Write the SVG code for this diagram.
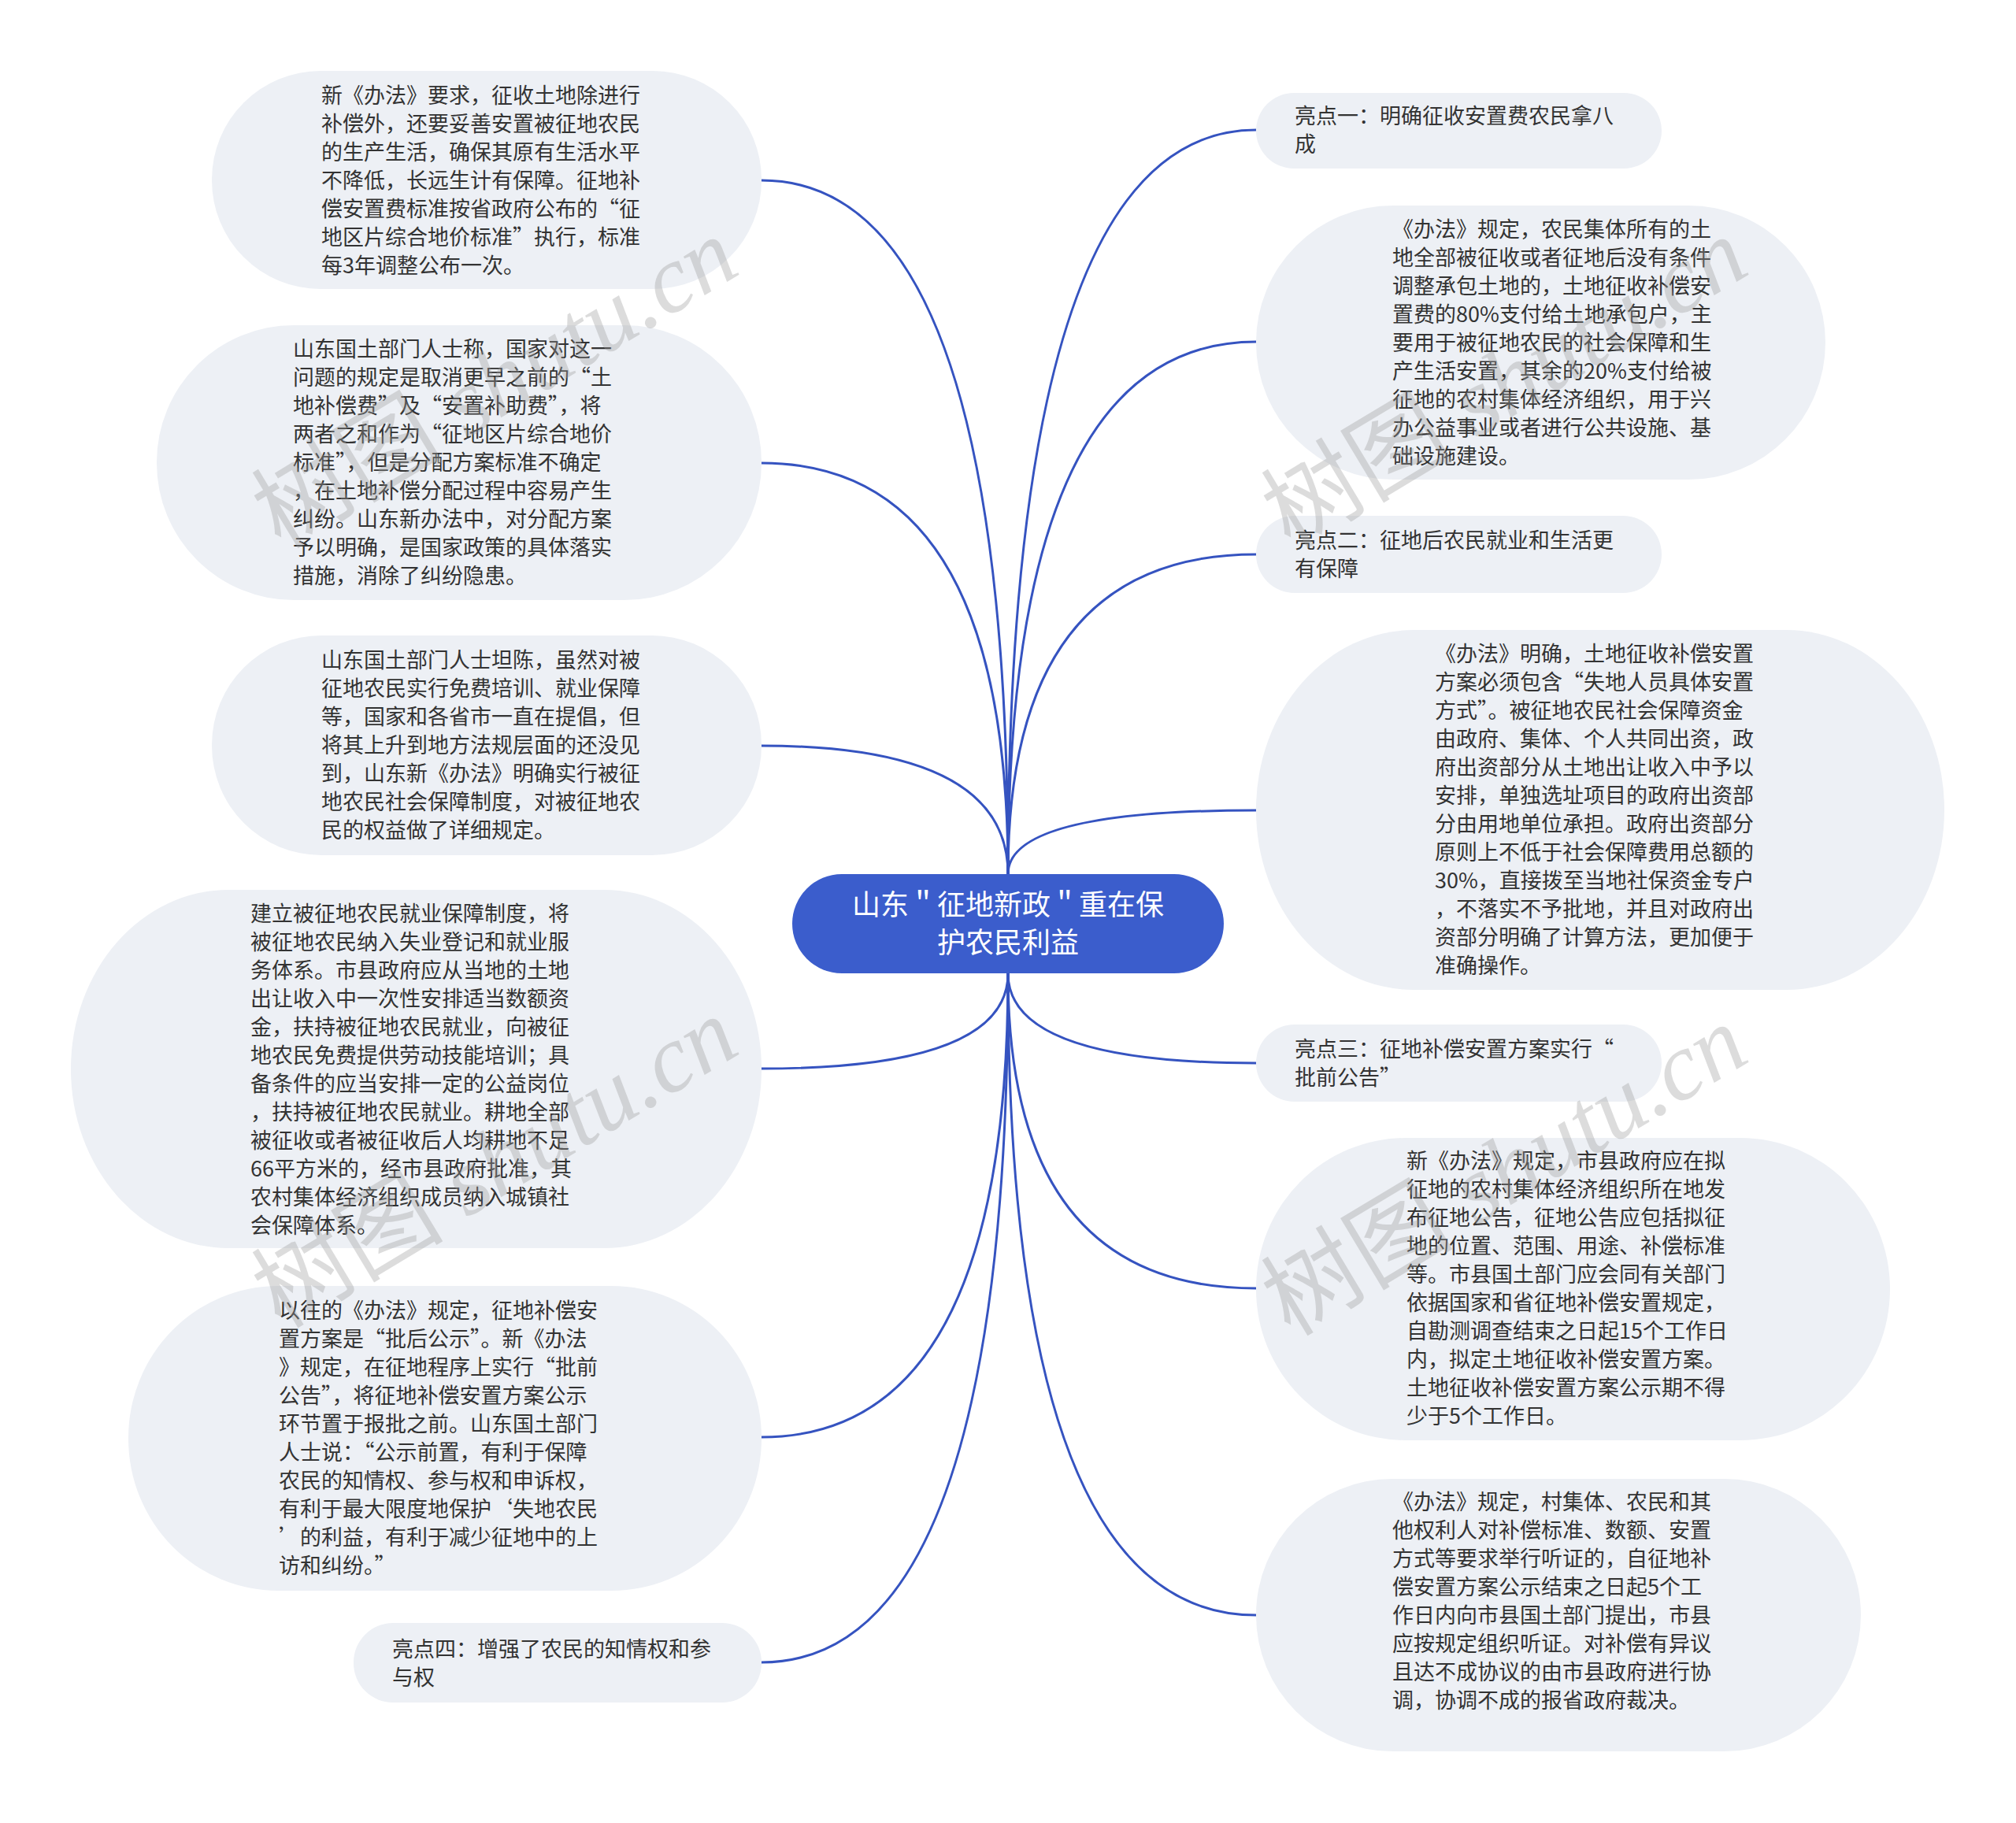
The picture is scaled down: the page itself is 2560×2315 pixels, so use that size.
<svg xmlns="http://www.w3.org/2000/svg" width="2560" height="2315" viewBox="0 0 2560 2315">
<style>
.nb{fill:#edf0f5;stroke:none}
.t{font-family:"Noto Sans CJK SC","Noto Sans",sans-serif;font-size:27px;fill:#333333}
.ct{font-family:"Noto Sans CJK SC","Noto Sans",sans-serif;font-size:36px;fill:#ffffff;text-anchor:middle}
.ln{fill:none;stroke:#3553c0;stroke-width:3}
.wm{font-family:"Liberation Serif","Noto Sans CJK SC",serif;font-size:122px;fill:#9a9a9a;fill-opacity:0.35;text-anchor:middle}
</style>
<rect width="2560" height="2315" fill="#ffffff"/>
<g id="connectors">
<path class="ln" d="M1280 1110 Q1280 229 967 229"/>
<path class="ln" d="M1280 1110 Q1280 588 967 588"/>
<path class="ln" d="M1280 1110 Q1280 947 967 947"/>
<path class="ln" d="M1280 1236 Q1280 1357 967 1357"/>
<path class="ln" d="M1280 1236 Q1280 1825 967 1825"/>
<path class="ln" d="M1280 1236 Q1280 2111 967 2111"/>
<path class="ln" d="M1280 1110 Q1280 165 1595 165"/>
<path class="ln" d="M1280 1110 Q1280 434 1595 434"/>
<path class="ln" d="M1280 1110 Q1280 704 1595 704"/>
<path class="ln" d="M1280 1110 Q1280 1029 1595 1029"/>
<path class="ln" d="M1280 1236 Q1280 1350 1595 1350"/>
<path class="ln" d="M1280 1236 Q1280 1636 1595 1636"/>
<path class="ln" d="M1280 1236 Q1280 2051 1595 2051"/>
</g>
<g id="center">
<rect x="1006" y="1110" width="548" height="126" rx="63" ry="63" fill="#3b5dcc"/>
<text class="ct" x="1280" y="1162">山东＂征地新政＂重在保</text>
<text class="ct" x="1280" y="1210">护农民利益</text>
</g>
<g id="L1">
<rect class="nb" x="269" y="90" width="698" height="277" rx="138" ry="138"/>
<text class="t" x="408" y="131"><tspan x="408">新《办法》要求，征收土地除进行</tspan><tspan x="408" dy="36">补偿外，还要妥善安置被征地农民</tspan><tspan x="408" dy="36">的生产生活，确保其原有生活水平</tspan><tspan x="408" dy="36">不降低，长远生计有保障。征地补</tspan><tspan x="408" dy="36">偿安置费标准按省政府公布的“征</tspan><tspan x="408" dy="36">地区片综合地价标准”执行，标准</tspan><tspan x="408" dy="36">每3年调整公布一次。</tspan></text>
</g>
<g id="L2">
<rect class="nb" x="199" y="413" width="768" height="349" rx="174" ry="174"/>
<text class="t" x="372" y="453"><tspan x="372">山东国土部门人士称，国家对这一</tspan><tspan x="372" dy="36">问题的规定是取消更早之前的“土</tspan><tspan x="372" dy="36">地补偿费”及“安置补助费”，将</tspan><tspan x="372" dy="36">两者之和作为“征地区片综合地价</tspan><tspan x="372" dy="36">标准”，但是分配方案标准不确定</tspan><tspan x="372" dy="36">，在土地补偿分配过程中容易产生</tspan><tspan x="372" dy="36">纠纷。山东新办法中，对分配方案</tspan><tspan x="372" dy="36">予以明确，是国家政策的具体落实</tspan><tspan x="372" dy="36">措施，消除了纠纷隐患。</tspan></text>
</g>
<g id="L3">
<rect class="nb" x="269" y="807" width="698" height="279" rx="139" ry="139"/>
<text class="t" x="408" y="848"><tspan x="408">山东国土部门人士坦陈，虽然对被</tspan><tspan x="408" dy="36">征地农民实行免费培训、就业保障</tspan><tspan x="408" dy="36">等，国家和各省市一直在提倡，但</tspan><tspan x="408" dy="36">将其上升到地方法规层面的还没见</tspan><tspan x="408" dy="36">到，山东新《办法》明确实行被征</tspan><tspan x="408" dy="36">地农民社会保障制度，对被征地农</tspan><tspan x="408" dy="36">民的权益做了详细规定。</tspan></text>
</g>
<g id="L4">
<rect class="nb" x="90" y="1130" width="877" height="455" rx="200" ry="227"/>
<text class="t" x="318" y="1170"><tspan x="318">建立被征地农民就业保障制度，将</tspan><tspan x="318" dy="36">被征地农民纳入失业登记和就业服</tspan><tspan x="318" dy="36">务体系。市县政府应从当地的土地</tspan><tspan x="318" dy="36">出让收入中一次性安排适当数额资</tspan><tspan x="318" dy="36">金，扶持被征地农民就业，向被征</tspan><tspan x="318" dy="36">地农民免费提供劳动技能培训；具</tspan><tspan x="318" dy="36">备条件的应当安排一定的公益岗位</tspan><tspan x="318" dy="36">，扶持被征地农民就业。耕地全部</tspan><tspan x="318" dy="36">被征收或者被征收后人均耕地不足</tspan><tspan x="318" dy="36">66平方米的，经市县政府批准，其</tspan><tspan x="318" dy="36">农村集体经济组织成员纳入城镇社</tspan><tspan x="318" dy="36">会保障体系。</tspan></text>
</g>
<g id="L5">
<rect class="nb" x="163" y="1633" width="804" height="387" rx="190" ry="193"/>
<text class="t" x="354" y="1674"><tspan x="354">以往的《办法》规定，征地补偿安</tspan><tspan x="354" dy="36">置方案是“批后公示”。新《办法</tspan><tspan x="354" dy="36">》规定，在征地程序上实行“批前</tspan><tspan x="354" dy="36">公告”，将征地补偿安置方案公示</tspan><tspan x="354" dy="36">环节置于报批之前。山东国土部门</tspan><tspan x="354" dy="36">人士说：“公示前置，有利于保障</tspan><tspan x="354" dy="36">农民的知情权、参与权和申诉权，</tspan><tspan x="354" dy="36">有利于最大限度地保护‘失地农民</tspan><tspan x="354" dy="36">’的利益，有利于减少征地中的上</tspan><tspan x="354" dy="36">访和纠纷。”</tspan></text>
</g>
<g id="L6">
<rect class="nb" x="449" y="2061" width="518" height="101" rx="50" ry="50"/>
<text class="t" x="498" y="2104"><tspan x="498">亮点四：增强了农民的知情权和参</tspan><tspan x="498" dy="36">与权</tspan></text>
</g>
<g id="R1">
<rect class="nb" x="1595" y="118" width="515" height="96" rx="48" ry="48"/>
<text class="t" x="1644" y="157"><tspan x="1644">亮点一：明确征收安置费农民拿八</tspan><tspan x="1644" dy="36">成</tspan></text>
</g>
<g id="R2">
<rect class="nb" x="1595" y="261" width="723" height="348" rx="174" ry="174"/>
<text class="t" x="1768" y="301"><tspan x="1768">《办法》规定，农民集体所有的土</tspan><tspan x="1768" dy="36">地全部被征收或者征地后没有条件</tspan><tspan x="1768" dy="36">调整承包土地的，土地征收补偿安</tspan><tspan x="1768" dy="36">置费的80%支付给土地承包户，主</tspan><tspan x="1768" dy="36">要用于被征地农民的社会保障和生</tspan><tspan x="1768" dy="36">产生活安置，其余的20%支付给被</tspan><tspan x="1768" dy="36">征地的农村集体经济组织，用于兴</tspan><tspan x="1768" dy="36">办公益事业或者进行公共设施、基</tspan><tspan x="1768" dy="36">础设施建设。</tspan></text>
</g>
<g id="R3">
<rect class="nb" x="1595" y="655" width="515" height="98" rx="49" ry="49"/>
<text class="t" x="1644" y="696"><tspan x="1644">亮点二：征地后农民就业和生活更</tspan><tspan x="1644" dy="36">有保障</tspan></text>
</g>
<g id="R4">
<rect class="nb" x="1595" y="800" width="874" height="457" rx="200" ry="228"/>
<text class="t" x="1822" y="840"><tspan x="1822">《办法》明确，土地征收补偿安置</tspan><tspan x="1822" dy="36">方案必须包含“失地人员具体安置</tspan><tspan x="1822" dy="36">方式”。被征地农民社会保障资金</tspan><tspan x="1822" dy="36">由政府、集体、个人共同出资，政</tspan><tspan x="1822" dy="36">府出资部分从土地出让收入中予以</tspan><tspan x="1822" dy="36">安排，单独选址项目的政府出资部</tspan><tspan x="1822" dy="36">分由用地单位承担。政府出资部分</tspan><tspan x="1822" dy="36">原则上不低于社会保障费用总额的</tspan><tspan x="1822" dy="36">30%，直接拨至当地社保资金专户</tspan><tspan x="1822" dy="36">，不落实不予批地，并且对政府出</tspan><tspan x="1822" dy="36">资部分明确了计算方法，更加便于</tspan><tspan x="1822" dy="36">准确操作。</tspan></text>
</g>
<g id="R5">
<rect class="nb" x="1595" y="1301" width="515" height="98" rx="49" ry="49"/>
<text class="t" x="1644" y="1342"><tspan x="1644">亮点三：征地补偿安置方案实行“</tspan><tspan x="1644" dy="36">批前公告”</tspan></text>
</g>
<g id="R6">
<rect class="nb" x="1595" y="1445" width="805" height="384" rx="190" ry="192"/>
<text class="t" x="1786" y="1484"><tspan x="1786">新《办法》规定，市县政府应在拟</tspan><tspan x="1786" dy="36">征地的农村集体经济组织所在地发</tspan><tspan x="1786" dy="36">布征地公告，征地公告应包括拟征</tspan><tspan x="1786" dy="36">地的位置、范围、用途、补偿标准</tspan><tspan x="1786" dy="36">等。市县国土部门应会同有关部门</tspan><tspan x="1786" dy="36">依据国家和省征地补偿安置规定，</tspan><tspan x="1786" dy="36">自勘测调查结束之日起15个工作日</tspan><tspan x="1786" dy="36">内，拟定土地征收补偿安置方案。</tspan><tspan x="1786" dy="36">土地征收补偿安置方案公示期不得</tspan><tspan x="1786" dy="36">少于5个工作日。</tspan></text>
</g>
<g id="R7">
<rect class="nb" x="1595" y="1878" width="768" height="346" rx="173" ry="173"/>
<text class="t" x="1768" y="1917"><tspan x="1768">《办法》规定，村集体、农民和其</tspan><tspan x="1768" dy="36">他权利人对补偿标准、数额、安置</tspan><tspan x="1768" dy="36">方式等要求举行听证的，自征地补</tspan><tspan x="1768" dy="36">偿安置方案公示结束之日起5个工</tspan><tspan x="1768" dy="36">作日内向市县国土部门提出，市县</tspan><tspan x="1768" dy="36">应按规定组织听证。对补偿有异议</tspan><tspan x="1768" dy="36">且达不成协议的由市县政府进行协</tspan><tspan x="1768" dy="36">调，协调不成的报省政府裁决。</tspan></text>
</g>
<g id="watermarks">
<text class="wm" transform="translate(650 522) rotate(-31)">树图 <tspan font-style="italic">shutu.cn</tspan></text>
<text class="wm" transform="translate(650 1512) rotate(-31)">树图 <tspan font-style="italic">shutu.cn</tspan></text>
<text class="wm" transform="translate(1932 522) rotate(-31)">树图 <tspan font-style="italic">shutu.cn</tspan></text>
<text class="wm" transform="translate(1932 1522) rotate(-31)">树图 <tspan font-style="italic">shutu.cn</tspan></text>
</g>
</svg>
